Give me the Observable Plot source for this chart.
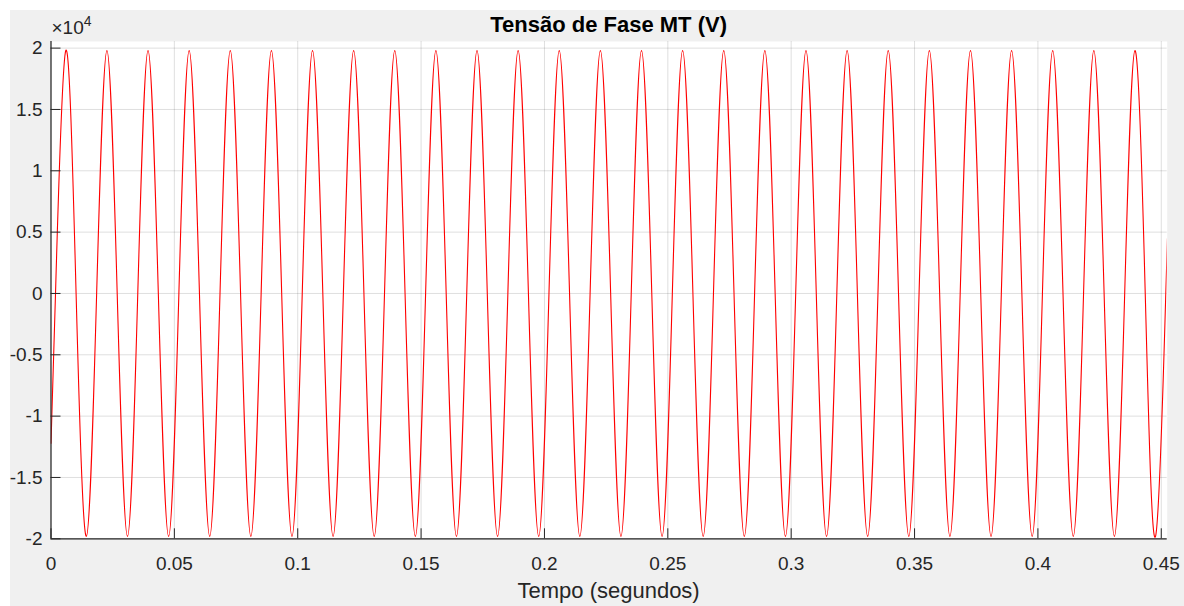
<!DOCTYPE html>
<html><head><meta charset="utf-8">
<script src="https://cdn.jsdelivr.net/npm/d3@7"></script>
<script src="https://cdn.jsdelivr.net/npm/@observablehq/plot@0.6"></script>
<style>
html,body{margin:0;padding:0;background:#fff;}
#wrap{position:relative;width:1184px;height:606px;overflow:hidden;}
#bg{position:absolute;left:10px;top:10px;width:1174px;height:596px;background:#f0f0f0;}
#chart{position:absolute;left:0;top:0;}
</style></head><body>
<div id="wrap"><div id="bg"></div><div id="chart"></div></div>
<script>
const tituloTexto = "Tensão de Fase MT (V)";
const rotuloX = "Tempo (segundos)";
const multiplicador = ["×10", "4"];

// Tempo (s): start, zero crossings, peaks and troughs
const tempo = [
  0,
  0.00183, 0.00600, 0.01017, 0.01433, 0.01850, 0.02267, 0.02683, 0.03100, 0.03517, 0.03933, 0.04350, 0.04767,
  0.05183, 0.05600, 0.06017, 0.06433, 0.06850, 0.07267, 0.07683, 0.08100, 0.08517, 0.08933, 0.09350, 0.09767,
  0.10183, 0.10600, 0.11017, 0.11433, 0.11850, 0.12267, 0.12683, 0.13100, 0.13517, 0.13933, 0.14350, 0.14767,
  0.15183, 0.15600, 0.16017, 0.16433, 0.16850, 0.17267, 0.17683, 0.18100, 0.18517, 0.18933, 0.19350, 0.19767,
  0.20183, 0.20600, 0.21017, 0.21433, 0.21850, 0.22267, 0.22683, 0.23100, 0.23517, 0.23933, 0.24350, 0.24767,
  0.25183, 0.25600, 0.26017, 0.26433, 0.26850, 0.27267, 0.27683, 0.28100, 0.28517, 0.28933, 0.29350, 0.29767,
  0.30183, 0.30600, 0.31017, 0.31433, 0.31850, 0.32267, 0.32683, 0.33100, 0.33517, 0.33933, 0.34350, 0.34767,
  0.35183, 0.35600, 0.36017, 0.36433, 0.36850, 0.37267, 0.37683, 0.38100, 0.38517, 0.38933, 0.39350, 0.39767,
  0.40183, 0.40600, 0.41017, 0.41433, 0.41850, 0.42267, 0.42683, 0.43100, 0.43517, 0.43933, 0.44350, 0.44767,
  0.45183, 0.45240
];
// Tensão (V)
const tensao = [
  -12200,
  0, 19800, 0, -19800, 0, 19800, 0, -19800, 0, 19800, 0, -19800,
  0, 19800, 0, -19800, 0, 19800, 0, -19800, 0, 19800, 0, -19800,
  0, 19800, 0, -19800, 0, 19800, 0, -19800, 0, 19800, 0, -19800,
  0, 19800, 0, -19800, 0, 19800, 0, -19800, 0, 19800, 0, -19800,
  0, 19800, 0, -19800, 0, 19800, 0, -19800, 0, 19800, 0, -19800,
  0, 19800, 0, -19800, 0, 19800, 0, -19800, 0, 19800, 0, -19800,
  0, 19800, 0, -19800, 0, 19800, 0, -19800, 0, 19800, 0, -19800,
  0, 19800, 0, -19800, 0, 19800, 0, -19800, 0, 19800, 0, -19800,
  0, 19800, 0, -19800, 0, 19800, 0, -19800, 0, 19800, 0, -19800,
  0, 3500
];
const xTicks = [0, 0.05, 0.1, 0.15, 0.2, 0.25, 0.3, 0.35, 0.4, 0.45];
const yTicks = [-20000, -15000, -10000, -5000, 0, 5000, 10000, 15000, 20000];
const xDomain = [0, 0.4524];
const yDomain = [-20000, 20540];

const data = tempo.map((t, i) => ({t, v: tensao[i]}));
const axisColor = "#262626";

const chart = Plot.plot({
  width: 1184,
  height: 606,
  marginLeft: 50.5,
  marginRight: 17.3,
  marginTop: 41,
  marginBottom: 67.7,
  style: {background: "transparent", fontFamily: "'Liberation Sans', Arial, sans-serif", fontSize: "19px", color: axisColor, overflow: "visible"},
  x: {domain: xDomain},
  y: {domain: yDomain},
  marks: [
    Plot.frame({fill: "white", stroke: null}),
    Plot.gridX(xTicks, {stroke: axisColor, strokeOpacity: 0.15, strokeWidth: 1}),
    Plot.gridY(yTicks, {stroke: axisColor, strokeOpacity: 0.15, strokeWidth: 1}),
    Plot.line(data, {x: "t", y: "v", stroke: "#ff0000", strokeWidth: 1.1, curve: "natural", clip: true}),
    Plot.ruleX([xDomain[0]], {stroke: axisColor, strokeWidth: 1.2}),
    Plot.ruleY([yDomain[0]], {stroke: axisColor, strokeWidth: 1.2}),
    Plot.axisX(xTicks, {tickSize: -10, tickPadding: 27.5, tickFormat: d => String(d), label: null, stroke: axisColor, fill: axisColor}),
    Plot.axisY(yTicks, {tickSize: -10, tickPadding: 18.5, tickFormat: d => String(d / 10000), label: null, stroke: axisColor, fill: axisColor})
  ]
});
document.getElementById("chart").appendChild(chart);

const svg = d3.select(chart);
const ff = "'Liberation Sans', Arial, sans-serif";
svg.append("text")
  .attr("x", 608.6).attr("y", 32)
  .attr("text-anchor", "middle")
  .attr("font-family", ff).attr("font-size", 22).attr("font-weight", "bold")
  .attr("fill", "#000")
  .text(tituloTexto);
const m = svg.append("text")
  .attr("x", 51.5).attr("y", 34.3)
  .attr("text-anchor", "start")
  .attr("font-family", ff).attr("font-size", 19)
  .attr("fill", axisColor);
m.append("tspan").text(multiplicador[0]);
m.append("tspan").attr("font-size", 14).attr("dy", -8).text(multiplicador[1]);
svg.append("text")
  .attr("x", 608.6).attr("y", 598)
  .attr("text-anchor", "middle")
  .attr("font-family", ff).attr("font-size", 22)
  .attr("fill", axisColor)
  .text(rotuloX);
</script>
</body></html>
